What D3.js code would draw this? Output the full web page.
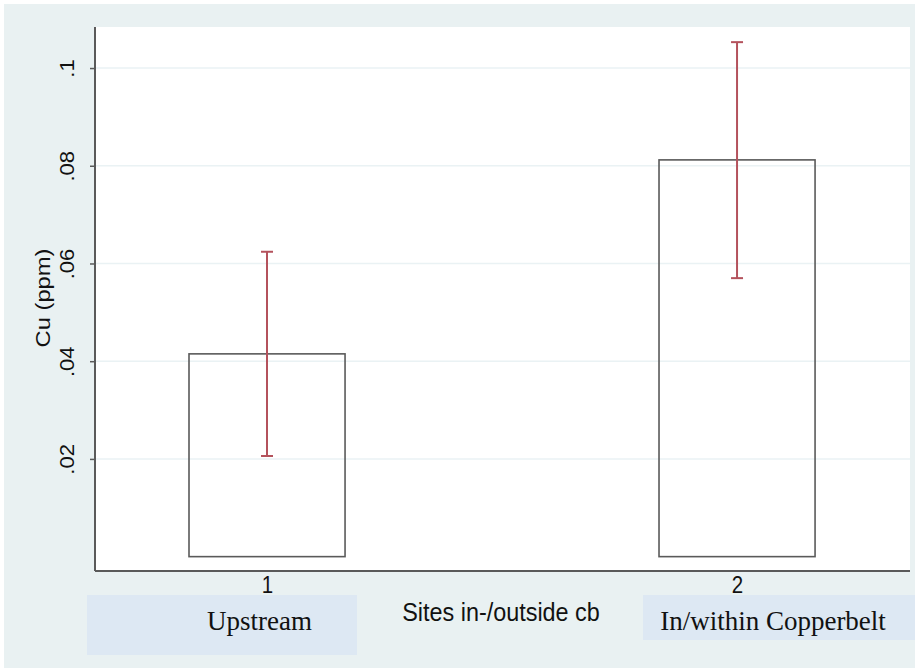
<!DOCTYPE html>
<html>
<head>
<meta charset="utf-8">
<script src="https://cdn.jsdelivr.net/npm/d3@7"></script>
<style>
html,body{margin:0;padding:0;background:#fff;}
svg{display:block;}
</style>
</head>
<body>
<svg id="chart" width="915" height="670"></svg>
<script>
const categories = [1, 2];
const means = [0.0415, 0.0812];
const ciLow = [0.0206, 0.0570];
const ciHigh = [0.0624, 0.1053];
const yTicks = [0.02, 0.04, 0.06, 0.08, 0.1];
const yTickLabels = [".02", ".04", ".06", ".08", ".1"];
const xTickLabels = ["1", "2"];
const groupLabels = ["Upstream", "In/within Copperbelt"];

const svg = d3.select("#chart");
const W = 915, H = 670;
const plot = {left: 95, right: 910, top: 27, bottom: 571};
const SANS = "Liberation Sans, Arial, Helvetica, sans-serif";
const STRETCH = 1.13;

// outer background
svg.append("rect").attr("x", 4).attr("y", 4).attr("width", W - 4).attr("height", 664)
  .attr("fill", "#e9f1f2");
// plot area
svg.append("rect").attr("x", plot.left).attr("y", plot.top)
  .attr("width", plot.right - plot.left).attr("height", plot.bottom - plot.top)
  .attr("fill", "#ffffff");

const y = d3.scaleLinear().domain([-0.00294, 0.1084]).range([plot.bottom, plot.top]);
const x = d3.scaleLinear().domain([0.6340, 2.3680]).range([plot.left, plot.right]);
const barW = 0.332;

// gridlines
svg.append("g").selectAll("line").data(yTicks).join("line")
  .attr("x1", plot.left).attr("x2", plot.right)
  .attr("y1", d => y(d)).attr("y2", d => y(d))
  .attr("stroke", "#eaf2f4").attr("stroke-width", 1.5);

// bars
svg.append("g").selectAll("rect").data(categories).join("rect")
  .attr("x", d => x(d - barW / 2))
  .attr("width", d => x(d + barW / 2) - x(d - barW / 2))
  .attr("y", (d, i) => y(means[i]))
  .attr("height", (d, i) => y(0) - y(means[i]))
  .attr("fill", "none").attr("stroke", "#5a5a5a").attr("stroke-width", 1.6);

// error bars
const eg = svg.append("g").attr("stroke", "#b4525c").attr("stroke-width", 2).attr("fill", "none");
categories.forEach((c, i) => {
  const cx = x(c);
  eg.append("line").attr("x1", cx).attr("x2", cx).attr("y1", y(ciLow[i])).attr("y2", y(ciHigh[i]));
  eg.append("line").attr("x1", cx - 6).attr("x2", cx + 6).attr("y1", y(ciLow[i])).attr("y2", y(ciLow[i]));
  eg.append("line").attr("x1", cx - 6).attr("x2", cx + 6).attr("y1", y(ciHigh[i])).attr("y2", y(ciHigh[i]));
});

// y axis
const yAxis = d3.axisLeft(y).tickValues(yTicks).tickFormat((d, i) => yTickLabels[i]).tickSize(5).tickSizeOuter(0);
const yg = svg.append("g").attr("transform", `translate(${plot.left},0)`).call(yAxis);
yg.select(".domain").attr("stroke", "#5a5a5a").attr("stroke-width", 2)
  .attr("d", `M0,${plot.top}V${plot.bottom}`);
yg.selectAll(".tick line").attr("stroke", "#5a5a5a").attr("stroke-width", 1.5);
yg.selectAll(".tick text")
  .attr("font-family", SANS).attr("font-size", 19.5).attr("fill", "#111")
  .attr("text-anchor", "middle")
  .attr("x", 0).attr("y", 0).attr("dy", "0")
  .attr("transform", `translate(-21,0) rotate(-90) scale(${STRETCH},1)`);

// x axis
const xAxis = d3.axisBottom(x).tickValues(categories).tickFormat((d, i) => xTickLabels[i]).tickSize(0).tickSizeOuter(0);
const xg = svg.append("g").attr("transform", `translate(0,${plot.bottom})`).call(xAxis);
xg.select(".domain").attr("stroke", "#5a5a5a").attr("stroke-width", 2)
  .attr("d", `M${plot.left},0H${plot.right}`);
xg.selectAll(".tick text")
  .attr("font-family", SANS).attr("font-size", 20.5).attr("fill", "#111")
  .attr("y", 0).attr("dy", "0")
  .attr("transform", `translate(0,22) scale(1,${STRETCH})`);

// axis titles
svg.append("text").attr("transform", `translate(50,298) rotate(-90) scale(${STRETCH},1)`)
  .attr("text-anchor", "middle")
  .attr("font-family", SANS).attr("font-size", 21).attr("fill", "#111")
  .text("Cu (ppm)");
svg.append("text").attr("transform", `translate(501,621) scale(1,${STRETCH})`)
  .attr("text-anchor", "middle")
  .attr("font-family", SANS).attr("font-size", 23.4).attr("fill", "#111")
  .text("Sites in-/outside cb");

// group label boxes
const boxes = [{x: 87, y: 595, w: 270, h: 60, tx: 259.5, ty: 630}, {x: 643, y: 595, w: 272, h: 45, tx: 773, ty: 630}];
boxes.forEach((b, i) => {
  svg.append("rect").attr("x", b.x).attr("y", b.y).attr("width", b.w).attr("height", b.h).attr("fill", "#dde8f3");
  svg.append("text").attr("x", b.tx).attr("y", b.ty).attr("text-anchor", "middle")
    .attr("font-family", "Liberation Serif, Times New Roman, serif").attr("font-size", 27).attr("fill", "#111")
    .text(groupLabels[i]);
});
</script>
</body>
</html>
